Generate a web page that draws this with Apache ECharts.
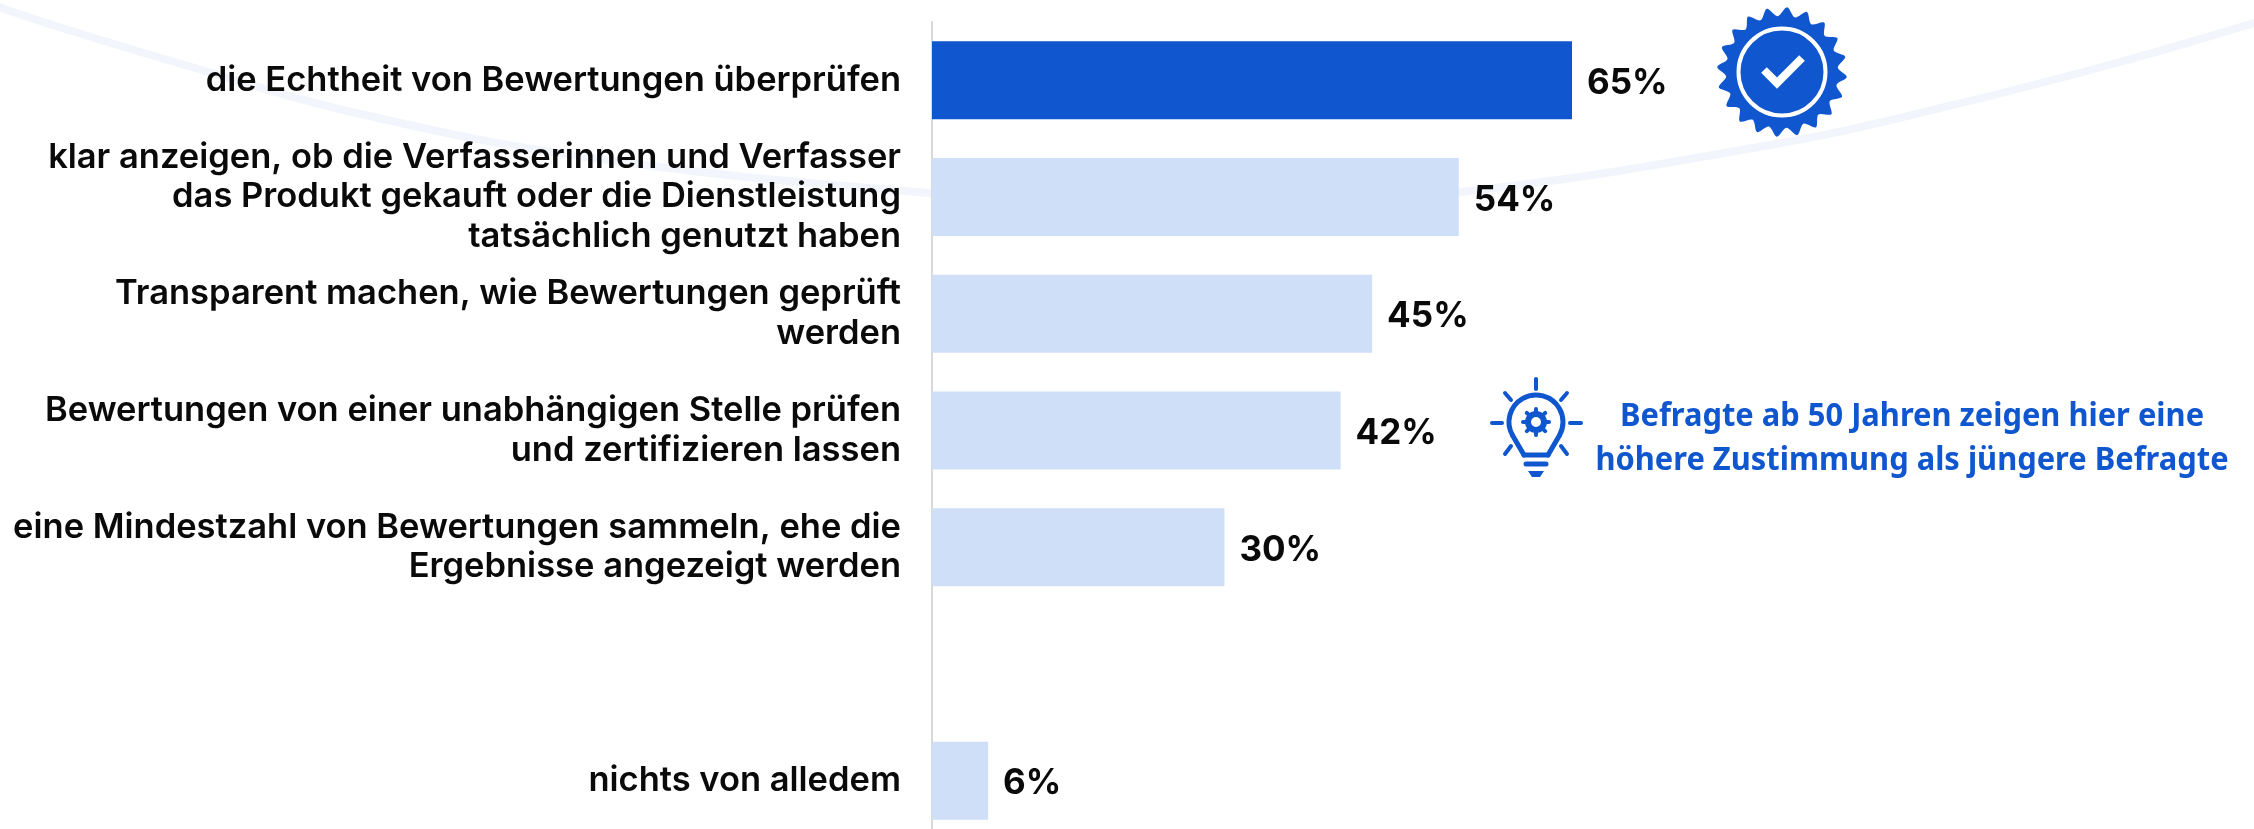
<!DOCTYPE html>
<html>
<head>
<meta charset="utf-8">
<title>Bewertungen</title>
<script src="https://cdn.jsdelivr.net/npm/echarts@6/dist/echarts.min.js"></script>
<style>
html, body { margin: 0; padding: 0; background: #fff; }
#chart { width: 2254px; height: 829px; }
</style>
</head>
<body>
<div id="chart"></div>
<script>
var categories = [
    'die Echtheit von Bewertungen überprüfen',
    'klar anzeigen, ob die Verfasserinnen und Verfasser\ndas Produkt gekauft oder die Dienstleistung\ntatsächlich genutzt haben',
    'Transparent machen, wie Bewertungen geprüft\nwerden',
    'Bewertungen von einer unabhängigen Stelle prüfen\nund zertifizieren lassen',
    'eine Mindestzahl von Bewertungen sammeln, ehe die\nErgebnisse angezeigt werden',
    '',
    'nichts von alledem'
];
var values = [65, 53.5, 44.7, 41.5, 29.7, null, 5.7];
var noteLines = ['Befragte ab 50 Jahren zeigen hier eine', 'höhere Zustimmung als jüngere Befragte'];

var blue = '#0f56cf';
var lightBlue = '#cfdff8';
var labelFont = 'Inter';

// Zacken vom Siegel
function badgePoints(cx, cy, outer, inner, teeth) {
    var pts = [];
    for (var i = 0; i < teeth * 2; i++) {
        var r = i % 2 === 0 ? outer : inner;
        var a = (i + 0.5) * Math.PI / teeth - Math.PI / 2;
        pts.push([cx + r * Math.cos(a), cy + r * Math.sin(a)]);
    }
    return pts;
}

function line(x1, y1, x2, y2, w) {
    return {
        type: 'line',
        shape: {x1: x1, y1: y1, x2: x2, y2: y2},
        style: {stroke: blue, lineWidth: w || 4, lineCap: 'round'}
    };
}

// Zahnrad in der Glühbirne
function gear(cx, cy) {
    var items = [{
        type: 'circle',
        shape: {cx: cx, cy: cy, r: 8},
        style: {fill: 'none', stroke: blue, lineWidth: 6}
    }];
    for (var i = 0; i < 8; i++) {
        var a = i * Math.PI / 4;
        items.push(line(cx + 9 * Math.cos(a), cy + 9 * Math.sin(a), cx + 13 * Math.cos(a), cy + 13 * Math.sin(a), 4));
    }
    return items;
}

var decoration = [
    // Hintergrundschwung
    {
        type: 'polyline',
        z: -1,
        shape: {
            points: [[-10, 4], [59, 27], [178, 63], [356, 113], [593, 158], [930, 193], [1200, 205], [1459, 192], [1781, 143], [1945, 107], [2120, 62], [2264, 20]],
            smooth: 0.4
        },
        style: {fill: 'none', stroke: '#f2f6fc', lineWidth: 8}
    },
    // Siegel
    {
        type: 'polygon',
        shape: {points: badgePoints(1782, 72, 65, 56, 20), smooth: 0.3},
        style: {fill: blue}
    },
    {
        type: 'circle',
        shape: {cx: 1782, cy: 72, r: 43.5},
        style: {fill: 'none', stroke: '#fff', lineWidth: 4}
    },
    {
        type: 'polyline',
        shape: {points: [[1764, 70], [1777, 83], [1802, 58]]},
        style: {fill: 'none', stroke: '#fff', lineWidth: 8}
    },
    // Glühbirne
    {
        type: 'arc',
        shape: {cx: 1536, cy: 422, r: 27, startAngle: Math.PI * 5 / 6, endAngle: Math.PI * 13 / 6, clockwise: true},
        style: {fill: 'none', stroke: blue, lineWidth: 5}
    },
    line(1512.6, 435.5, 1524, 455, 5),
    line(1559.4, 435.5, 1548, 455, 5),
    line(1524, 455, 1548, 455, 5),
    line(1536, 379, 1536, 389),
    line(1492, 423, 1502, 423),
    line(1570, 423, 1581, 423),
    line(1505, 393, 1511, 400),
    line(1567, 393, 1561, 400),
    line(1505, 454, 1511, 446),
    line(1567, 454, 1561, 446),
    line(1526, 464, 1546, 464, 5),
    {
        type: 'polygon',
        shape: {points: [[1528, 471], [1544, 471], [1540, 477], [1532, 477]]},
        style: {fill: blue}
    }
].concat(gear(1536, 422));

noteLines.forEach(function (text, i) {
    decoration.push({
        type: 'text',
        x: 1912,
        y: 417 + i * 44,
        scaleX: 0.935,
        style: {
            text: text,
            fill: blue,
            font: 'bold 33px "Noto Sans"',
            align: 'center',
            verticalAlign: 'middle'
        }
    });
});

var chart = echarts.init(document.getElementById('chart'), null, {renderer: 'canvas'});
chart.setOption({
    animation: false,
    backgroundColor: '#fff',
    // Höhe geht unten über das Bild hinaus, wie im Original
    grid: {left: 932, top: 22, width: 1280, height: 817, outerBoundsMode: 'none'},
    xAxis: {type: 'value', min: 0, max: 130, show: false},
    yAxis: {
        type: 'category',
        inverse: true,
        offset: 1,
        data: categories,
        axisTick: {show: false},
        axisLine: {lineStyle: {color: '#d9d9d9', width: 2}},
        axisLabel: {
            interval: 0,
            margin: 30,
            color: '#0a0a0a',
            fontFamily: labelFont,
            fontWeight: 600,
            fontSize: 34.5,
            lineHeight: 39.5
        }
    },
    series: [{
        type: 'bar',
        barWidth: 78,
        data: values.map(function (v, i) {
            return {value: v, itemStyle: {color: i === 0 ? blue : lightBlue}};
        }),
        label: {
            show: true,
            position: 'right',
            distance: 15,
            offset: [0, 3],
            color: '#0a0a0a',
            fontFamily: labelFont,
            fontWeight: 700,
            fontSize: 35,
            formatter: function (p) {
                return Math.round(p.value) + '%';
            }
        }
    }],
    graphic: decoration
});
</script>
</body>
</html>
